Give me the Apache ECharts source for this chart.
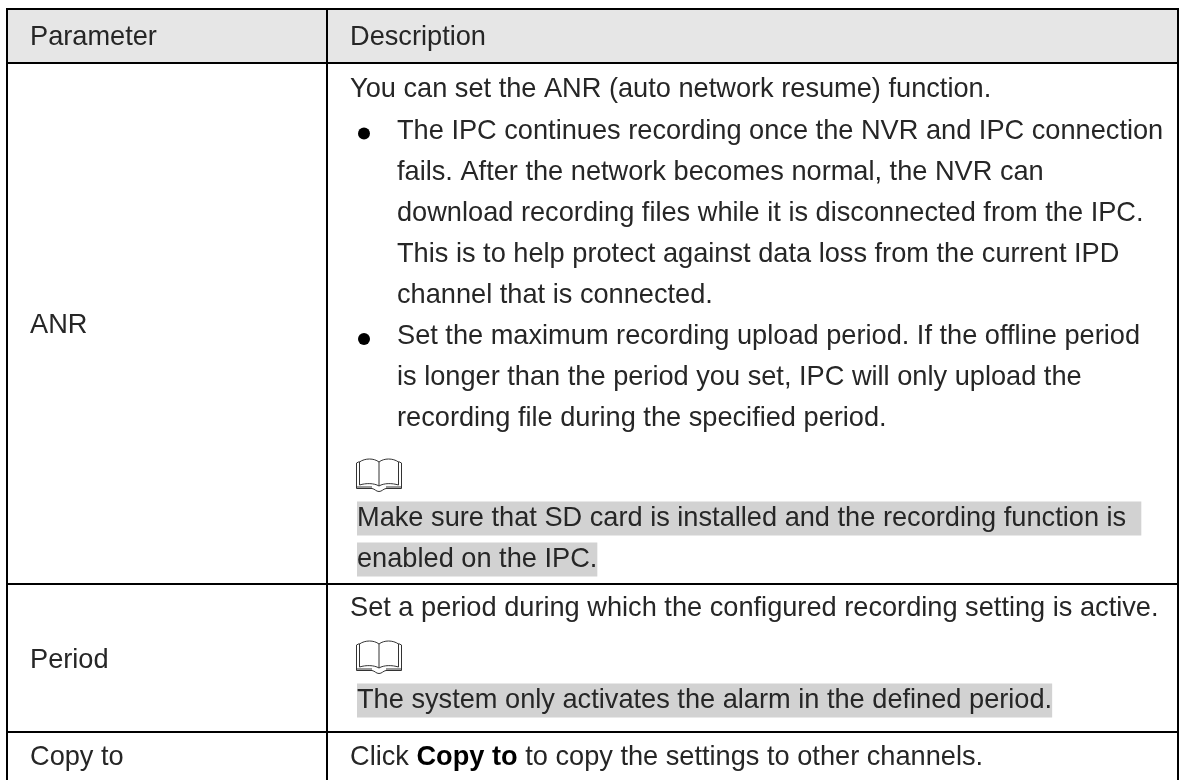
<!DOCTYPE html>
<html>
<head>
<meta charset="utf-8">
<style>html,body{margin:0;padding:0;background:#fff}#main{width:1179px;height:780px}</style>
<script src="https://cdn.jsdelivr.net/npm/echarts@6/dist/echarts.min.js"></script>
</head>
<body>
<div id="main"></div>
<script>
var headers = ['Parameter', 'Description'];
var parameters = ['ANR', 'Period', 'Copy to'];

var anrIntro = 'You can set the ANR (auto network resume) function.';
var anrBullets = [
  ['The IPC continues recording once the NVR and IPC connection',
   'fails. After the network becomes normal, the NVR can',
   'download recording files while it is disconnected from the IPC.',
   'This is to help protect against data loss from the current IPD',
   'channel that is connected.'],
  ['Set the maximum recording upload period. If the offline period',
   'is longer than the period you set, IPC will only upload the',
   'recording file during the specified period.']
];
var anrNote = ['Make sure that SD card is installed and the recording function is  ', 'enabled on the IPC.'];
var periodText = 'Set a period during which the configured recording setting is active.';
var periodNote = ['The system only activates the alarm in the defined period.'];
var copyText = 'Click {b|Copy to} to copy the settings to other channels.';

var fontFamily = '"Liberation Sans", Arial, sans-serif';
var fontSize = 27.2;
var lineGap = 41.1;
var ink = '#262626';
var xLeft = 7, xMid = 327, xRight = 1178;
var rowLines = [9, 63, 584, 732];

var chartDom = document.getElementById('main');
var myChart = echarts.init(chartDom);
var els = [];

// y is the text baseline
function text(str, x, y, extra) {
  var style = {
    text: str, x: x, y: y - 9.5, fill: ink,
    fontSize: fontSize, fontFamily: fontFamily,
    verticalAlign: 'middle', align: 'left'
  };
  for (var k in extra) style[k] = extra[k];
  els.push({ type: 'text', z: 5, style: style });
}

function bookIcon(x, y) {
  var ink2 = { fill: 'none', stroke: '#333', lineWidth: 1 };
  function poly(points) {
    return { type: 'polyline', shape: { points: points }, style: ink2 };
  }
  function curve(x1, y1, cx1, cy1, cx2, cy2, x2, y2) {
    return { type: 'bezierCurve', shape: { x1: x1, y1: y1, cpx1: cx1, cpy1: cy1, cpx2: cx2, cpy2: cy2, x2: x2, y2: y2 }, style: ink2 };
  }
  els.push({
    type: 'group', x: x, y: y, z: 5,
    children: [
      poly([[3.5, 3.5], [0.5, 5], [0.5, 30.5], [16, 30.5]]),
      poly([[42.5, 3.5], [45.5, 5], [45.5, 30.5], [30, 30.5]]),
      curve(3.5, 27, 10, 25, 18, 25, 23, 28),
      curve(42.5, 27, 36, 25, 28, 25, 23, 28),
      curve(3.5, 4, 9, 0, 18, 0, 23, 4),
      curve(42.5, 4, 37, 0, 28, 0, 23, 4),
      poly([[3.5, 4], [3.5, 27]]),
      poly([[42.5, 4], [42.5, 27]]),
      poly([[23, 4], [23, 28]]),
      curve(16, 30.5, 19, 31, 20, 33.5, 23, 33.5),
      curve(30, 30.5, 27, 31, 26, 33.5, 23, 33.5),
      poly([[0.5, 29], [16, 29]]),
      poly([[30, 29], [45.5, 29]])
    ]
  });
}

function note(str, y) {
  text(str, 357, y, { backgroundColor: '#d2d2d2', padding: [4, 0, 3, 0] });
}

// header fill
els.push({ type: 'rect', shape: { x: xLeft, y: rowLines[0], width: xRight - xLeft, height: rowLines[1] - rowLines[0] }, style: { fill: '#e6e6e6' } });

// grid lines
rowLines.forEach(function (y) {
  els.push({ type: 'line', z: 3, shape: { x1: xLeft - 1, y1: y, x2: xRight + 1, y2: y }, style: { stroke: '#000', lineWidth: 2 } });
});
[xLeft, xMid, xRight].forEach(function (x) {
  els.push({ type: 'line', z: 3, shape: { x1: x, y1: rowLines[0], x2: x, y2: 780 }, style: { stroke: '#000', lineWidth: 2 } });
});

text(headers[0], 30, 47);
text(headers[1], 350, 47);

text(parameters[0], 30, 335);
text(parameters[1], 30, 670);
text(parameters[2], 30, 767);

var y = 99.5;
text(anrIntro, 350, y);
anrBullets.forEach(function (lines) {
  lines.forEach(function (line, i) {
    y += lineGap;
    if (i === 0) els.push({ type: 'circle', z: 5, shape: { cx: 364, cy: y - 7, r: 6 }, style: { fill: '#000' } });
    text(line, 397, y);
  });
});
bookIcon(356, 458);
note(anrNote[0], 528);
note(anrNote[1], 569);

text(periodText, 350, 618);
bookIcon(356, 640);
note(periodNote[0], 710);

text(copyText, 350, 767, { rich: { b: { fontSize: fontSize, fontFamily: fontFamily, fontWeight: 'bold', fill: '#000' } } });

myChart.setOption({ animation: false, graphic: { elements: els } });
</script>
</body>
</html>
